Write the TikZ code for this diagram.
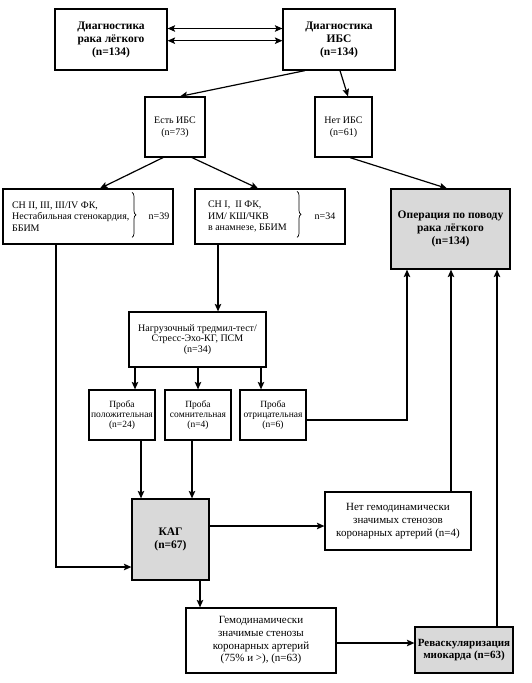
\documentclass[tikz,border=0pt]{standalone}
\usepackage{fontspec}
\setmainfont{Liberation Serif}
\usetikzlibrary{arrows.meta,decorations.pathreplacing,calc}
\begin{document}
\begin{tikzpicture}[x=1pt,y=-1pt,
 box/.style={draw, line width=1.2pt, inner sep=0pt, align=center},
 graybox/.style={box, fill=black!15},
 conn/.style={line width=1.2pt, -{Stealth[length=7.5pt,width=6.5pt,inset=1.5pt]}},
 dconn/.style={line width=1.2pt, {Stealth[length=7.5pt,width=6.5pt,inset=1.5pt]}-{Stealth[length=7.5pt,width=6.5pt,inset=1.5pt]}},
 bracestyle/.style={line width=0.7pt, decorate, decoration={brace, amplitude=4pt}},
 fbig/.style={font=\fontsize{11.5}{13}\selectfont\bfseries},
 fmid/.style={font=\fontsize{10}{12.5}\selectfont},
 flarge/.style={font=\fontsize{11}{12.7}\selectfont},
 fsm/.style={font=\fontsize{10}{11.5}\selectfont},
 fxs/.style={font=\fontsize{10}{10.7}\selectfont},
 fp/.style={font=\fontsize{9.5}{10.3}\selectfont},
]
\useasboundingbox[fill=white] (0,0) rectangle (531,683);

% top row
\node[box,fbig,minimum width=112pt,minimum height=61pt] (rak) at (111,39.5) {Диагностика\\рака лёгкого\\(n=134)};
\node[box,fbig,minimum width=112pt,minimum height=61pt] (ibs) at (339,39.5) {Диагностика\\ИБС\\(n=134)};

% second row
\node[box,fmid,minimum width=60pt,minimum height=60pt] (yes) at (175,127) {Есть ИБС\\(n=73)};
\node[box,fmid,minimum width=57pt,minimum height=60pt] (no) at (343.5,127) {Нет ИБС\\(n=61)};

% third row
\node[box,minimum width=170pt,minimum height=55pt] (ch2) at (88,216.5) {};
\node[fsm,align=left,anchor=west] (ch2t) at (8.5,216.5) {СН II, III, III/IV ФК,\\Нестабильная стенокардия,\\ББИМ};
\node[fsm] (n39) at (159,216.5) {n=39};
\node[box,minimum width=150pt,minimum height=55pt] (ch1) at (270,216.5) {};
\node[fsm,align=left,anchor=west] (ch1t) at (204.5,216.5) {СН I,\ \ II ФК,\\ИМ/ КШ/ЧКВ\\в анамнезе, ББИМ};
\node[fsm] (n34) at (325,216.5) {n=34};
\node[graybox,fbig,minimum width=119pt,minimum height=80pt] (op) at (450.5,229) {Операция по поводу\\рака лёгкого\\(n=134)};

\draw[bracestyle] ([xshift=44,yshift=-4]ch2.north) -- ([xshift=44,yshift=-49]ch2.north);
\draw[bracestyle] ([xshift=27,yshift=-3]ch1.north) -- ([xshift=27,yshift=-49]ch1.north);

% load test
\node[box,fxs,minimum width=137pt,minimum height=55pt] (load) at (197.5,339.5) {Нагрузочный тредмил-тест/\\Стресс-Эхо-КГ, ПСМ\\(n=34)};

% probes
\node[box,fp,minimum width=66pt,minimum height=50pt] (p1) at (122,415) {Проба\\положительная\\(n=24)};
\node[box,fp,minimum width=66pt,minimum height=50pt] (p2) at (198,415) {Проба\\сомнительная\\(n=4)};
\node[box,fp,minimum width=66pt,minimum height=50pt] (p3) at (273,415) {Проба\\отрицательная\\(n=6)};

% KAG etc.
\node[graybox,fbig,minimum width=77pt,minimum height=81pt] (kag) at (170.5,539.5) {КАГ\\(n=67)};
\node[box,flarge,minimum width=146pt,minimum height=58pt] (nogem) at (398,521) {Нет гемодинамически\\значимых стенозов\\коронарных артерий (n=4)};
\node[box,flarge,minimum width=150pt,minimum height=65pt] (gem) at (261,640.5) {Гемодинамически\\значимые стенозы\\коронарных артерий\\(75\% и >), (n=63)};
\node[graybox,font=\fontsize{11}{12.5}\selectfont\bfseries,minimum width=98pt,minimum height=46pt] (rev) at (464,650) {Реваскуляризация\\миокарда (n=63)};

% connectors
\draw[dconn] ([yshift=11]rak.east) -- ([yshift=11]ibs.west);
\draw[dconn] ([yshift=-1.2]rak.east) -- ([yshift=-1.2]ibs.west);
\draw[conn] ([xshift=-34]ibs.south) -- ([xshift=5]yes.north);
\draw[conn] ([xshift=1]ibs.south) -- ([xshift=4.5]no.north);
\draw[conn] ([xshift=-12]yes.south) -- ([xshift=12]ch2.north);
\draw[conn] ([xshift=17]yes.south) -- ([xshift=-12]ch1.north);
\draw[conn] ([xshift=6.5]no.south) -- ([xshift=-3.5]op.north);
\draw[conn] ([xshift=-52]ch1.south) -- ([xshift=-52]ch1.south |- load.north);
\draw[conn] ([xshift=-32]ch2.south) |- ([yshift=-27.5]kag.west);
\draw[conn] ([xshift=13]p1.north |- load.south) -- ([xshift=13]p1.north);
\draw[conn] (p2.north |- load.south) -- (p2.north);
\draw[conn] ([xshift=-12]p3.north |- load.south) -- ([xshift=-12]p3.north);
\draw[conn] ([yshift=-5]p3.east) -| ([xshift=-43.5]op.south);
\draw[conn] ([xshift=19]p1.south) -- ([xshift=19]p1.south |- kag.north);
\draw[conn] ([xshift=-6]p2.south) -- ([xshift=-6]p2.south |- kag.north);
\draw[conn] ([yshift=13.5]kag.east) -- ([yshift=13.5]kag.east -| nogem.west);
\draw[conn] ([xshift=53]nogem.north) -- ([xshift=53]nogem.north |- op.south);
\draw[conn] ([xshift=33]rev.north) -- ([xshift=33]rev.north |- op.south);
\draw[conn] ([xshift=29.5]kag.south) -- ([xshift=29.5]kag.south |- gem.north);
\draw[conn] ([yshift=-2.5]gem.east) -- ([yshift=-2.5]gem.east -| rev.west);
\end{tikzpicture}
\end{document}
